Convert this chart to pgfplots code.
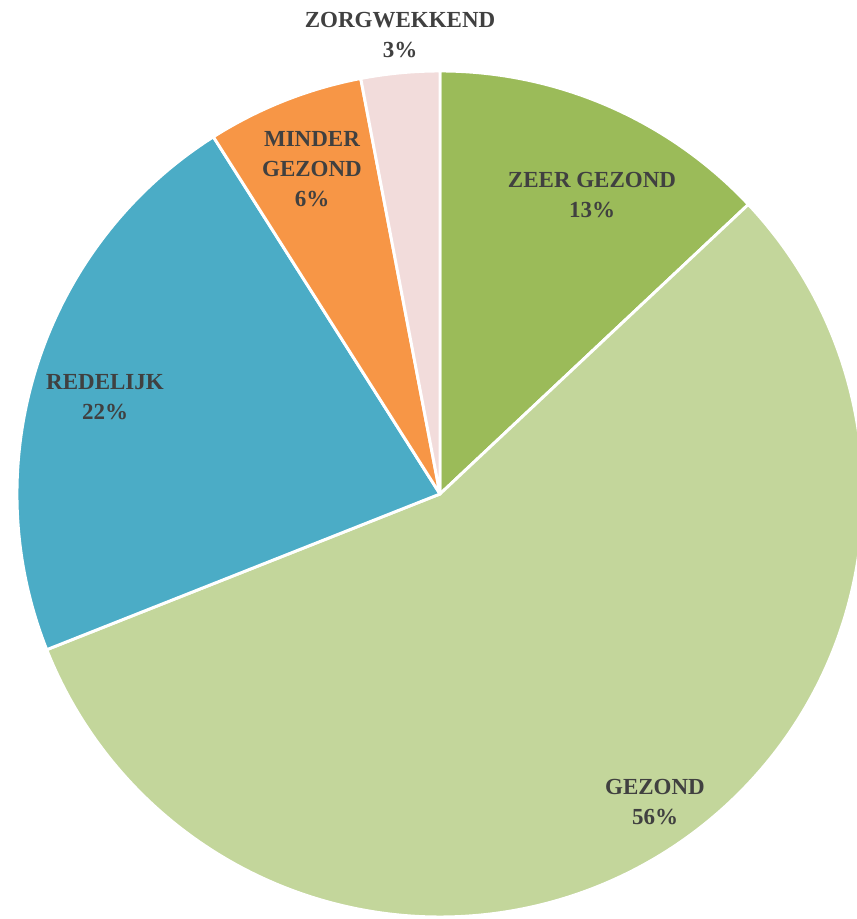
\documentclass[border=0pt]{standalone}
\usepackage{pgfplots}
\usepackage{pgfplotstable}
\pgfplotsset{compat=1.18}
\usepackage{fontspec}
\setmainfont{Liberation Serif}

\definecolor{zeer}{HTML}{9BBB59}
\definecolor{gezond}{HTML}{C3D69B}
\definecolor{redelijk}{HTML}{4BACC6}
\definecolor{minder}{HTML}{F79646}
\definecolor{zorg}{HTML}{F2DCDB}
\definecolor{lbl}{HTML}{404040}

% share in percent, clockwise from 12 o'clock
\pgfplotstableread{
value color
13 zeer
56 gezond
22 redelijk
6 minder
3 zorg
}\piedata

\tikzset{lab/.style={font=\bfseries\fontsize{17.25}{22.5}\selectfont, text=lbl, align=center}}

\begin{document}
\begin{tikzpicture}
\begin{axis}[
    scale only axis,
    width=642pt, height=689.25pt,
    xmin=0, xmax=856, ymin=0, ymax=919,
    hide axis,
    clip=false,
]
\def\startang{90}
\pgfplotsforeachungrouped \i in {0,...,4}{%
  \pgfplotstablegetelem{\i}{value}\of\piedata \let\v\pgfplotsretval
  \pgfplotstablegetelem{\i}{color}\of\piedata \let\c\pgfplotsretval
  \pgfmathsetmacro{\endang}{\startang-3.6*\v}
  \edef\temp{\noexpand\fill[\c,draw=white,line width=2.2pt,line join=round]
    (axis cs:440,425) -- ++(\startang:317.25pt)
    arc[start angle=\startang,end angle=\endang,radius=317.25pt] -- cycle;}
  \temp
  \let\startang\endang
}
\node[lab] at (axis cs:592,724) {ZEER GEZOND\\13\%};
\node[lab] at (axis cs:655,117) {GEZOND\\56\%};
\node[lab] at (axis cs:105,522) {REDELIJK\\22\%};
\node[lab] at (axis cs:312,750) {MINDER\\GEZOND\\6\%};
\node[lab] at (axis cs:400,884) {ZORGWEKKEND\\3\%};
\end{axis}
\pgfresetboundingbox
\path (current axis.south west) rectangle (current axis.north east);
\end{tikzpicture}
\end{document}
